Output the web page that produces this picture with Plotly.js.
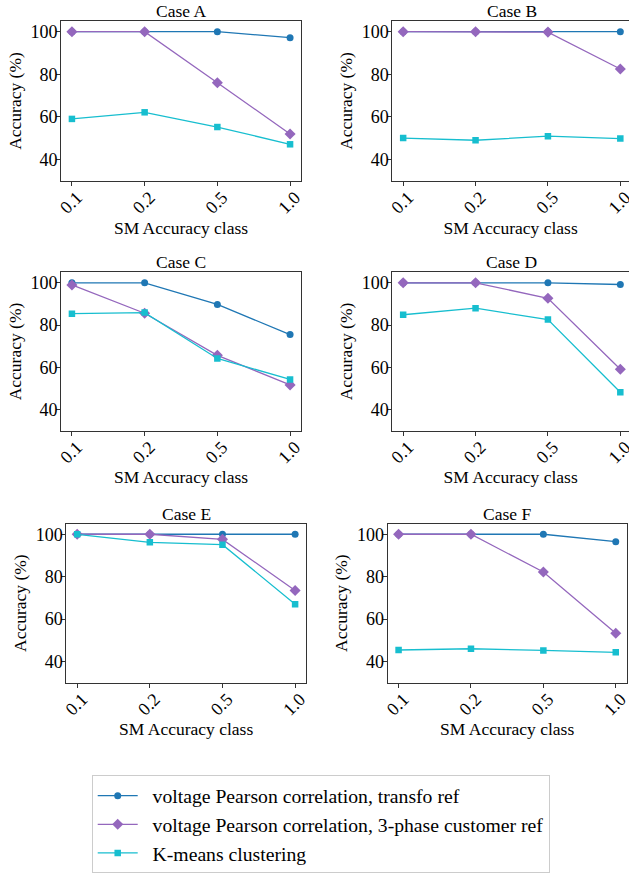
<!DOCTYPE html>
<html>
<head>
<meta charset="utf-8">
<script src="https://cdn.plot.ly/plotly-3.0.1.min.js"></script>
<style>html,body{margin:0;padding:0;background:#fff;}#chart{width:629px;height:876px;}</style>
</head>
<body>
<div id="chart"></div>
<script>
// ---- data ----
const categories = ["0.1", "0.2", "0.5", "1.0"];
const caseNames = ["Case A", "Case B", "Case C", "Case D", "Case E", "Case F"];
const seriesNames = [
  "voltage Pearson correlation, transfo ref",
  "voltage Pearson correlation, 3-phase customer ref",
  "K-means clustering"
];
// voltage Pearson correlation, transfo ref
const transfoA = [100, 100, 100, 97.2];
const transfoB = [100, 100, 100, 100];
const transfoC = [100, 100, 89.8, 75.5];
const transfoD = [100, 100, 100, 99.2];
const transfoE = [100, 100, 100, 100];
const transfoF = [100, 100, 100, 96.5];
// voltage Pearson correlation, 3-phase customer ref
const customerA = [100, 100, 76.1, 52.0];
const customerB = [100, 100, 99.8, 82.5];
const customerC = [99.0, 85.6, 65.7, 51.7];
const customerD = [100, 100, 92.7, 59.1];
const customerE = [100, 100, 97.6, 73.5];
const customerF = [100, 100, 82.2, 53.3];
// K-means clustering
const kmeansA = [59.1, 62.2, 55.3, 47.2];
const kmeansB = [50.1, 49.1, 51.0, 49.9];
const kmeansC = [85.4, 85.9, 64.2, 54.3];
const kmeansD = [84.9, 88.0, 82.6, 48.2];
const kmeansE = [100, 96.2, 95.1, 67.0];
const kmeansF = [45.4, 46.0, 45.2, 44.3];

const transfo = [transfoA, transfoB, transfoC, transfoD, transfoE, transfoF];
const customer = [customerA, customerB, customerC, customerD, customerE, customerF];
const kmeans = [kmeansA, kmeansB, kmeansC, kmeansD, kmeansE, kmeansF];

// ---- styles ----
const colors = ["#1f77b4", "#9467bd", "#17becf"];
const symbols = ["circle", "diamond", "square"];
const msizes = [7, 8.5, 6.5];
const FONT = "Liberation Serif";

const traces = [];
const allSeries = [transfo, customer, kmeans];
for (let c = 0; c < 6; c++) {
  const ax = c === 0 ? "" : String(c + 1);
  for (let s = 0; s < 3; s++) {
    traces.push({
      type: "scatter", mode: "lines+markers",
      x: categories, y: allSeries[s][c],
      xaxis: "x" + ax, yaxis: "y" + ax,
      name: "\u00a0\u00a0" + seriesNames[s],
      legendgroup: "g" + s,
      showlegend: c === 0,
      line: {color: colors[s], width: 1.3},
      marker: {color: colors[s], symbol: symbols[s], size: msizes[s]}
    });
  }
}

// panel geometry (paper fractions)
const xDom = [[0.0970, 0.4785], [0.6237, 1.0], [0.0970, 0.4785], [0.6237, 1.0], [0.1054, 0.4865], [0.6164, 0.9962]];
const yDom = [[0.7934, 0.9760], [0.7934, 0.9760], [0.5083, 0.6892], [0.5083, 0.6892], [0.2207, 0.4022], [0.2207, 0.4022]];
const xRanges = [[-0.15, 3.15], [-0.15, 3.12], [-0.15, 3.15], [-0.15, 3.12], [-0.15, 3.15], [-0.15, 3.15]];
const titleX = [181 / 629, 511.7 / 629, 181 / 629, 511.7 / 629, 186 / 629, 507 / 629];

const layout = {
  width: 629, height: 876,
  margin: {l: 0, r: 0, t: 0, b: 0},
  paper_bgcolor: "#fff", plot_bgcolor: "#fff",
  font: {family: FONT, color: "#000", size: 17},
  showlegend: true,
  legend: {
    x: 0.1458, y: 0.003, xanchor: "left", yanchor: "bottom",
    bordercolor: "#cccccc", borderwidth: 1, bgcolor: "#fff",
    font: {family: FONT, size: 19.7, color: "#000"},
    traceorder: "grouped", tracegroupgap: 0, itemwidth: 40
  },
  annotations: []
};

for (let c = 0; c < 6; c++) {
  const ax = c === 0 ? "" : String(c + 1);
  const clipped = xRanges[c][1] < 3.15;
  layout["xaxis" + ax] = {
    domain: xDom[c], anchor: "y" + ax, type: "category",
    range: xRanges[c], showgrid: false, zeroline: false,
    showline: true, linecolor: "#333", linewidth: 1, mirror: true,
    ticks: "outside", ticklen: 4, tickcolor: "#333",
    tickangle: -45, ticklabelshift: 5, ticklabelstandoff: -6,
    tickfont: {family: FONT, size: 18, color: "#000"},
    title: {text: "SM Accuracy class", font: {family: FONT, size: 17.5, color: "#000"}, standoff: 0},
    fixedrange: true
  };
  layout["yaxis" + ax] = {
    domain: yDom[c], anchor: "x" + ax, range: [30, 105],
    tickvals: [40, 60, 80, 100], showgrid: false, zeroline: false,
    showline: true, linecolor: "#333", linewidth: 1, mirror: clipped ? false : true,
    ticks: "outside", ticklen: 4, tickcolor: "#333", ticklabelstandoff: -5,
    tickfont: {family: FONT, size: 18, color: "#000"},
    title: {text: "Accuracy (%)", font: {family: FONT, size: 17.5, color: "#000"}, standoff: 4},
    fixedrange: true
  };
  layout.annotations.push({
    text: caseNames[c], xref: "paper", yref: "paper",
    x: titleX[c], y: yDom[c][1], xanchor: "center", yanchor: "bottom",
    yshift: -2, showarrow: false,
    font: {family: FONT, size: 17.5, color: "#000"}
  });
}

Plotly.newPlot("chart", traces, layout, {staticPlot: true, displayModeBar: false});
</script>
</body>
</html>
